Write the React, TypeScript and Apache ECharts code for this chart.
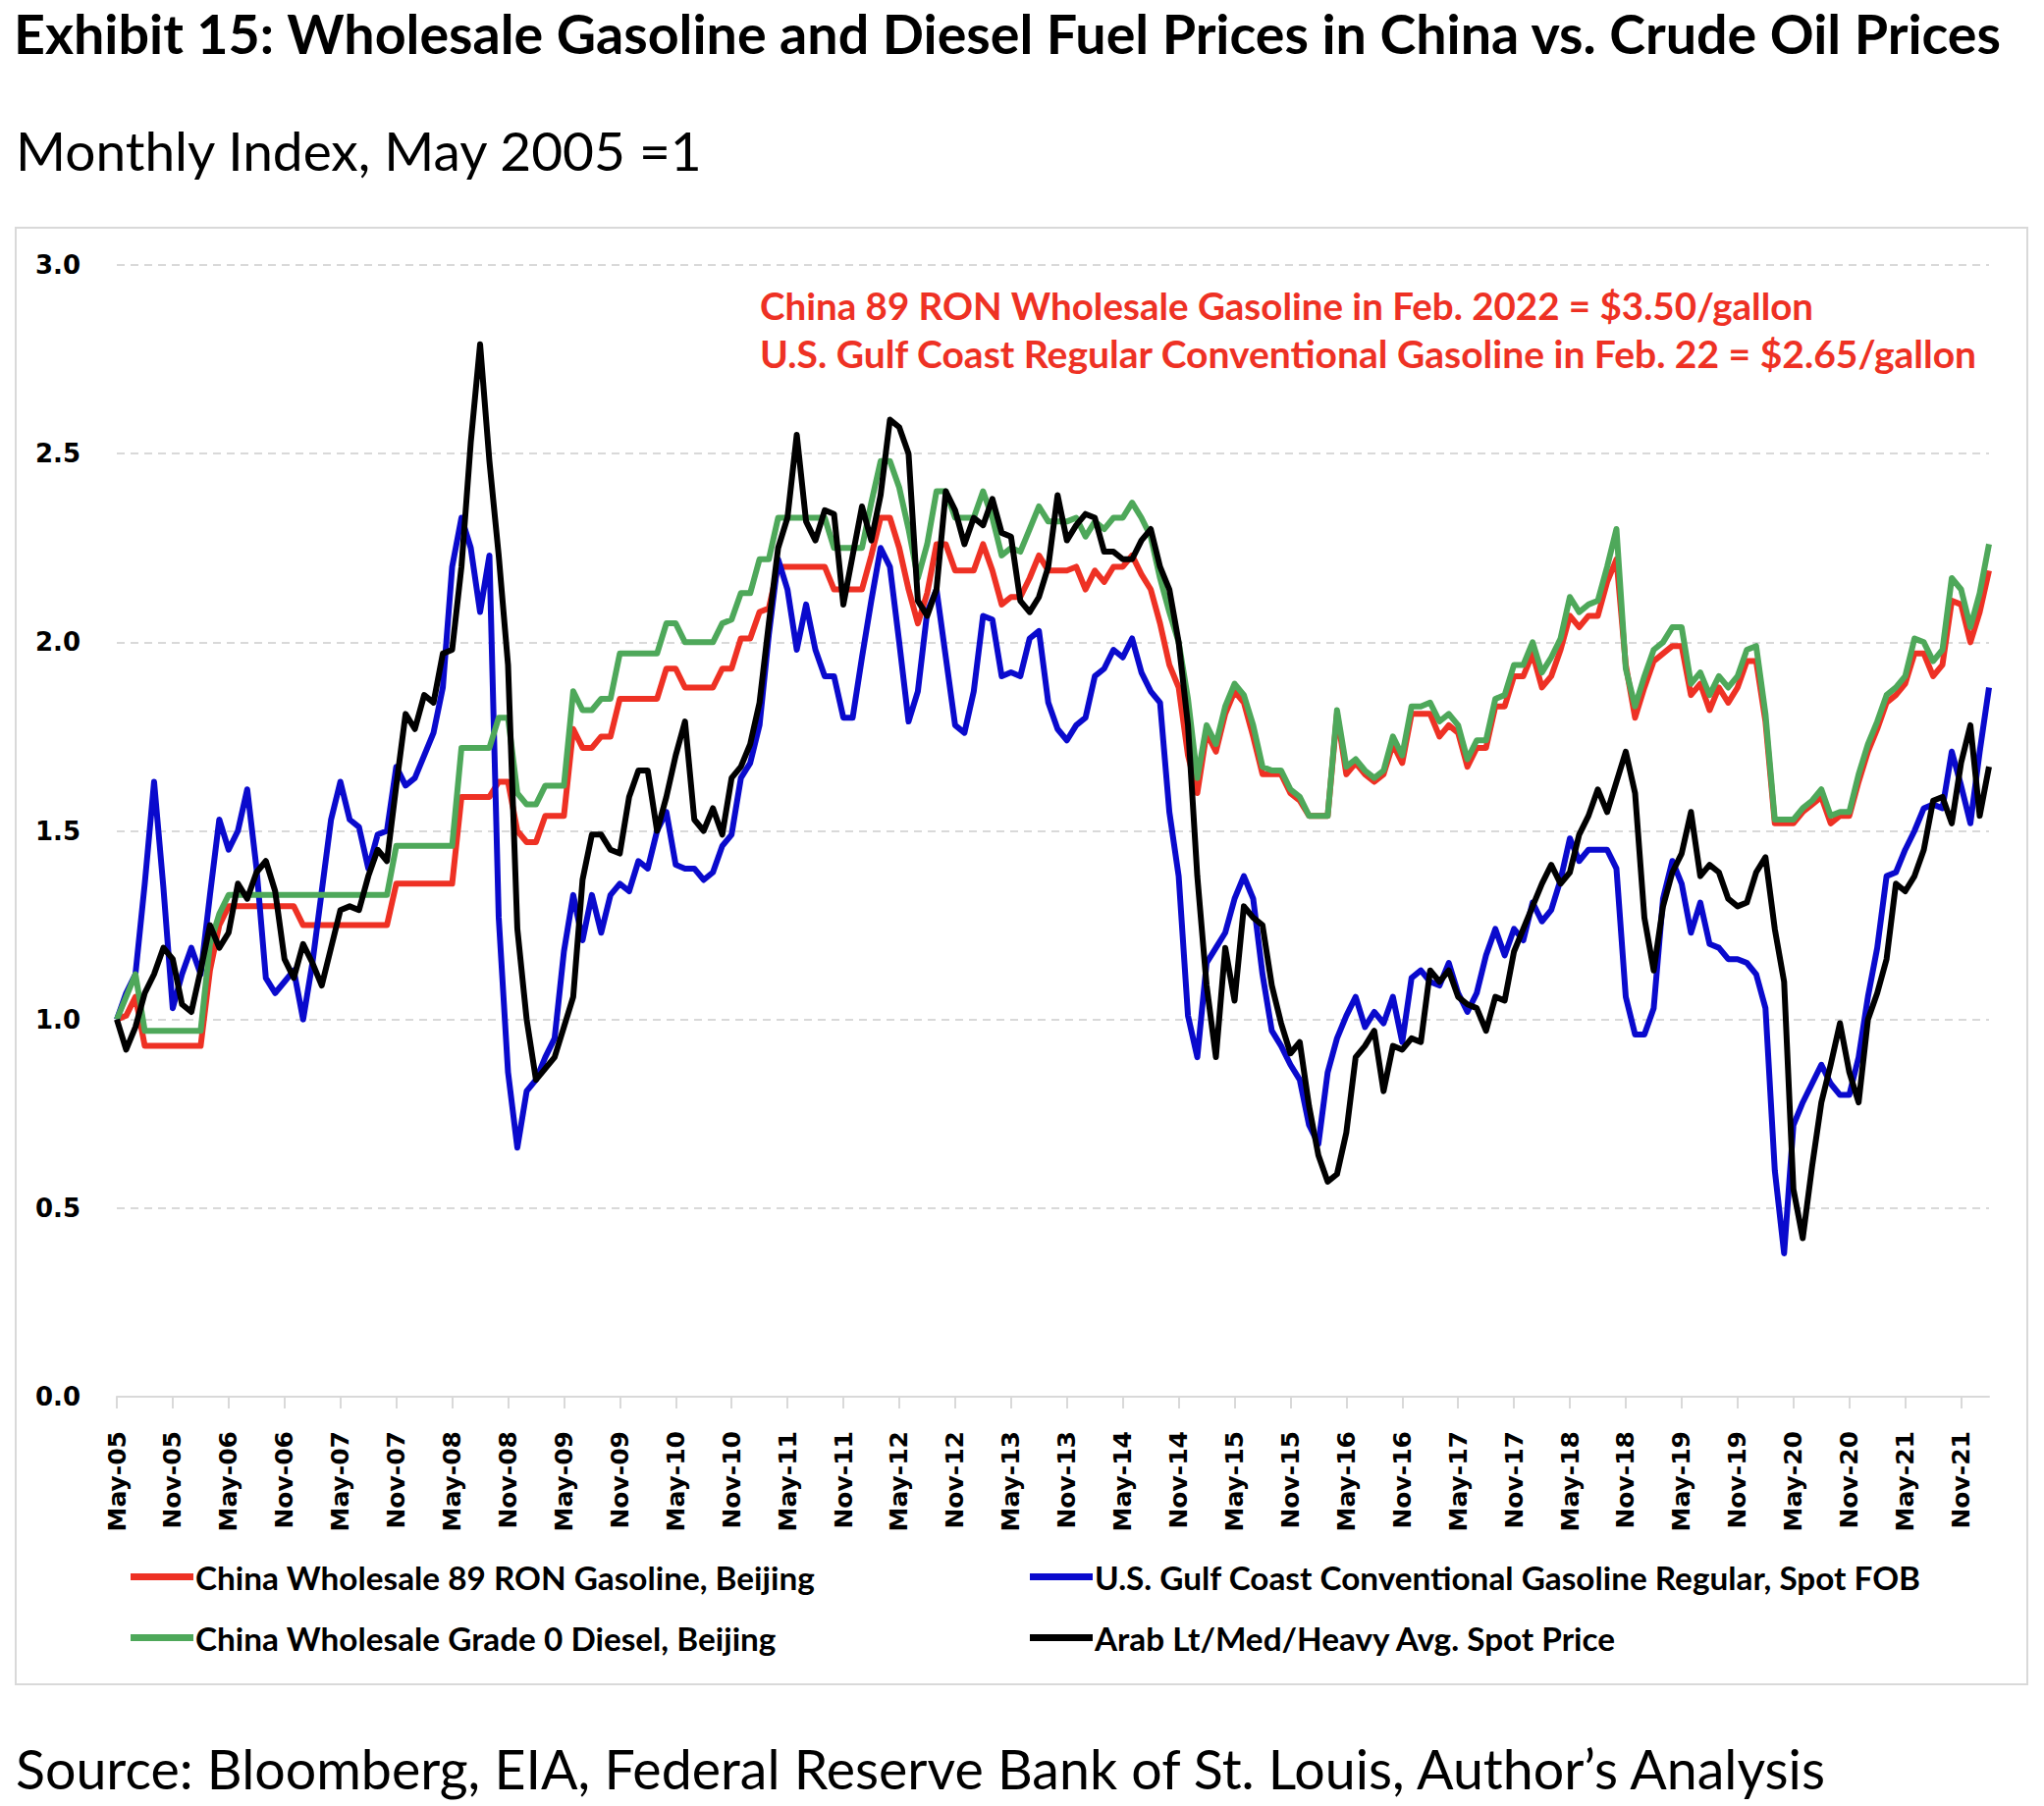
import React, { useEffect, useRef } from "react";
import * as echarts from "echarts";

// ---------- data (monthly index, May 2005 = 1) ----------
const START_YEAR = 2005;
const START_MONTH = 4; // May (0-based)
const MONTH_NAMES = ["Jan", "Feb", "Mar", "Apr", "May", "Jun", "Jul", "Aug", "Sep", "Oct", "Nov", "Dec"];

const chinaGasoline = [
  1.00, 1.01, 1.06, 0.93, 0.93, 0.93, 0.93, 0.93, 0.93, 0.93, 1.13, 1.25,
  1.30, 1.30, 1.30, 1.30, 1.30, 1.30, 1.30, 1.30, 1.25, 1.25, 1.25, 1.25,
  1.25, 1.25, 1.25, 1.25, 1.25, 1.25, 1.36, 1.36, 1.36, 1.36, 1.36, 1.36,
  1.36, 1.59, 1.59, 1.59, 1.59, 1.63, 1.63, 1.50, 1.47, 1.47, 1.54, 1.54,
  1.54, 1.77, 1.72, 1.72, 1.75, 1.75, 1.85, 1.85, 1.85, 1.85, 1.85, 1.93,
  1.93, 1.88, 1.88, 1.88, 1.88, 1.93, 1.93, 2.01, 2.01, 2.08, 2.09, 2.20,
  2.20, 2.20, 2.20, 2.20, 2.20, 2.14, 2.14, 2.14, 2.14, 2.23, 2.33, 2.33,
  2.25, 2.14, 2.05, 2.13, 2.26, 2.26, 2.19, 2.19, 2.19, 2.26, 2.19, 2.10,
  2.12, 2.12, 2.17, 2.23, 2.19, 2.19, 2.19, 2.20, 2.14, 2.19, 2.16, 2.20,
  2.20, 2.23, 2.18, 2.14, 2.05, 1.94, 1.88, 1.70, 1.60, 1.76, 1.71, 1.81,
  1.87, 1.84, 1.75, 1.65, 1.65, 1.65, 1.60, 1.58, 1.54, 1.54, 1.54, 1.81,
  1.65, 1.68, 1.65, 1.63, 1.65, 1.73, 1.68, 1.81, 1.81, 1.81, 1.75, 1.78,
  1.76, 1.67, 1.72, 1.72, 1.83, 1.83, 1.91, 1.91, 1.97, 1.88, 1.91, 1.98,
  2.07, 2.04, 2.07, 2.07, 2.16, 2.22, 1.94, 1.80, 1.88, 1.95, 1.97, 1.99,
  1.99, 1.86, 1.89, 1.82, 1.88, 1.84, 1.88, 1.95, 1.95, 1.79, 1.52, 1.52,
  1.52, 1.55, 1.57, 1.59, 1.52, 1.54, 1.54, 1.63, 1.71, 1.77, 1.84, 1.86,
  1.89, 1.97, 1.97, 1.91, 1.94, 2.11, 2.10, 2.00, 2.08, 2.19,
];

const usGulfGasoline = [
  1.00, 1.07, 1.12, 1.36, 1.63, 1.35, 1.03, 1.12, 1.19, 1.12, 1.33, 1.53,
  1.45, 1.50, 1.61, 1.40, 1.11, 1.07, 1.10, 1.13, 1.00, 1.15, 1.34, 1.53,
  1.63, 1.53, 1.51, 1.40, 1.49, 1.50, 1.67, 1.62, 1.64, 1.70, 1.76, 1.88,
  2.20, 2.33, 2.25, 2.08, 2.23, 1.27, 0.86, 0.66, 0.81, 0.84, 0.90, 0.95,
  1.18, 1.33, 1.21, 1.33, 1.23, 1.33, 1.36, 1.34, 1.42, 1.40, 1.50, 1.55,
  1.41, 1.40, 1.40, 1.37, 1.39, 1.46, 1.49, 1.64, 1.68, 1.78, 2.02, 2.22,
  2.14, 1.98, 2.10, 1.98, 1.91, 1.91, 1.80, 1.80, 1.96, 2.11, 2.25, 2.20,
  2.00, 1.79, 1.87, 2.08, 2.14, 1.96, 1.78, 1.76, 1.87, 2.07, 2.06, 1.91,
  1.92, 1.91, 2.01, 2.03, 1.84, 1.77, 1.74, 1.78, 1.80, 1.91, 1.93, 1.98,
  1.96, 2.01, 1.92, 1.87, 1.84, 1.55, 1.38, 1.01, 0.90, 1.15, 1.19, 1.23,
  1.32, 1.38, 1.32, 1.12, 0.97, 0.93, 0.88, 0.84, 0.72, 0.67, 0.86, 0.95,
  1.01, 1.06, 0.98, 1.02, 0.99, 1.06, 0.94, 1.11, 1.13, 1.10, 1.09, 1.15,
  1.07, 1.02, 1.07, 1.17, 1.24, 1.17, 1.24, 1.21, 1.31, 1.26, 1.29, 1.37,
  1.48, 1.42, 1.45, 1.45, 1.45, 1.40, 1.06, 0.96, 0.96, 1.03, 1.32, 1.42,
  1.36, 1.23, 1.31, 1.20, 1.19, 1.16, 1.16, 1.15, 1.12, 1.03, 0.60, 0.38,
  0.72, 0.78, 0.83, 0.88, 0.83, 0.80, 0.80, 0.90, 1.06, 1.19, 1.38, 1.39,
  1.45, 1.50, 1.56, 1.57, 1.56, 1.71, 1.62, 1.52, 1.71, 1.88,
];

const chinaDiesel = [
  1.00, 1.06, 1.12, 0.97, 0.97, 0.97, 0.97, 0.97, 0.97, 0.97, 1.20, 1.28,
  1.33, 1.33, 1.33, 1.33, 1.33, 1.33, 1.33, 1.33, 1.33, 1.33, 1.33, 1.33,
  1.33, 1.33, 1.33, 1.33, 1.33, 1.33, 1.46, 1.46, 1.46, 1.46, 1.46, 1.46,
  1.46, 1.72, 1.72, 1.72, 1.72, 1.80, 1.80, 1.60, 1.57, 1.57, 1.62, 1.62,
  1.62, 1.87, 1.82, 1.82, 1.85, 1.85, 1.97, 1.97, 1.97, 1.97, 1.97, 2.05,
  2.05, 2.00, 2.00, 2.00, 2.00, 2.05, 2.06, 2.13, 2.13, 2.22, 2.22, 2.33,
  2.33, 2.33, 2.33, 2.33, 2.33, 2.25, 2.25, 2.25, 2.25, 2.37, 2.48, 2.48,
  2.41, 2.30, 2.17, 2.26, 2.40, 2.40, 2.33, 2.33, 2.33, 2.40, 2.33, 2.23,
  2.25, 2.24, 2.30, 2.36, 2.32, 2.32, 2.32, 2.33, 2.28, 2.32, 2.30, 2.33,
  2.33, 2.37, 2.33, 2.28, 2.17, 2.08, 2.00, 1.85, 1.64, 1.78, 1.73, 1.83,
  1.89, 1.86, 1.78, 1.67, 1.66, 1.66, 1.61, 1.59, 1.54, 1.54, 1.54, 1.82,
  1.67, 1.69, 1.66, 1.64, 1.66, 1.75, 1.70, 1.83, 1.83, 1.84, 1.79, 1.81,
  1.78, 1.69, 1.74, 1.74, 1.85, 1.86, 1.94, 1.94, 2.00, 1.92, 1.96, 2.01,
  2.12, 2.08, 2.10, 2.11, 2.20, 2.30, 1.93, 1.83, 1.91, 1.98, 2.00, 2.04,
  2.04, 1.89, 1.92, 1.86, 1.91, 1.88, 1.91, 1.98, 1.99, 1.81, 1.53, 1.53,
  1.53, 1.56, 1.58, 1.61, 1.54, 1.55, 1.55, 1.65, 1.73, 1.79, 1.86, 1.88,
  1.91, 2.01, 2.00, 1.95, 1.98, 2.17, 2.14, 2.04, 2.13, 2.26,
];

const arabCrude = [
  1.00, 0.92, 0.98, 1.07, 1.12, 1.19, 1.16, 1.04, 1.02, 1.13, 1.25, 1.19,
  1.23, 1.36, 1.32, 1.39, 1.42, 1.34, 1.16, 1.11, 1.20, 1.15, 1.09, 1.19,
  1.29, 1.30, 1.29, 1.38, 1.45, 1.42, 1.62, 1.81, 1.77, 1.86, 1.84, 1.97,
  1.98, 2.20, 2.53, 2.79, 2.48, 2.23, 1.94, 1.24, 1.00, 0.84, 0.87, 0.90,
  0.98, 1.06, 1.37, 1.49, 1.49, 1.45, 1.44, 1.59, 1.66, 1.66, 1.50, 1.59,
  1.70, 1.79, 1.53, 1.50, 1.56, 1.49, 1.64, 1.67, 1.73, 1.84, 2.05, 2.25,
  2.33, 2.55, 2.32, 2.27, 2.35, 2.34, 2.10, 2.23, 2.36, 2.27, 2.39, 2.59,
  2.57, 2.50, 2.11, 2.07, 2.14, 2.40, 2.35, 2.26, 2.33, 2.31, 2.38, 2.29,
  2.28, 2.11, 2.08, 2.12, 2.20, 2.39, 2.27, 2.31, 2.34, 2.33, 2.24, 2.24,
  2.22, 2.22, 2.27, 2.30, 2.20, 2.14, 2.00, 1.78, 1.38, 1.09, 0.90, 1.19,
  1.05, 1.30, 1.27, 1.25, 1.09, 0.99, 0.91, 0.94, 0.77, 0.64, 0.57, 0.59,
  0.70, 0.90, 0.93, 0.97, 0.81, 0.93, 0.92, 0.95, 0.94, 1.13, 1.10, 1.13,
  1.06, 1.04, 1.03, 0.97, 1.06, 1.05, 1.18, 1.24, 1.30, 1.36, 1.41, 1.36,
  1.39, 1.49, 1.54, 1.61, 1.55, 1.63, 1.71, 1.60, 1.27, 1.13, 1.30, 1.39,
  1.44, 1.55, 1.38, 1.41, 1.39, 1.32, 1.30, 1.31, 1.39, 1.43, 1.24, 1.10,
  0.55, 0.42, 0.61, 0.78, 0.88, 0.99, 0.86, 0.78, 1.00, 1.07, 1.16, 1.36,
  1.34, 1.38, 1.45, 1.58, 1.59, 1.52, 1.68, 1.78, 1.54, 1.67,
];

const categories = chinaGasoline.map((_, i) => {
  const m = (START_MONTH + i) % 12;
  const y = START_YEAR + Math.floor((START_MONTH + i) / 12);
  return `${MONTH_NAMES[m]}-${String(y % 100).padStart(2, "0")}`;
});

const SERIES_NAMES = [
  "China Wholesale 89 RON Gasoline, Beijing",
  "U.S. Gulf Coast Conventional Gasoline Regular, Spot FOB",
  "China Wholesale Grade 0 Diesel, Beijing",
  "Arab Lt/Med/Heavy Avg. Spot Price",
];
const SERIES_COLORS = ["#EE3124", "#0A0ACD", "#4EA85A", "#000000"];
const SERIES_DATA = [chinaGasoline, usGulfGasoline, chinaDiesel, arabCrude];

const TITLE = "Exhibit 15: Wholesale Gasoline and Diesel Fuel Prices in China vs. Crude Oil Prices";
const SUBTITLE = "Monthly Index, May 2005 =1";
const NOTE_1 = "China 89 RON Wholesale Gasoline in Feb. 2022 = $3.50/gallon";
const NOTE_2 = "U.S. Gulf Coast Regular Conventional Gasoline in Feb. 22 = $2.65/gallon";
const SOURCE = "Source: Bloomberg, EIA, Federal Reserve Bank of St. Louis, Author\u2019s Analysis";

const Y_MIN = 0;
const Y_MAX = 3;
const Y_STEP = 0.5;

const W = 2082;
const H = 1840;
const CAL = "Lato, 'Noto Sans', sans-serif";
const AXF = "'DejaVu Sans', sans-serif";

export default function App() {
  const ref = useRef<HTMLDivElement>(null);

  useEffect(() => {
    if (!ref.current) return;
    const chart = echarts.init(ref.current, undefined, { renderer: "svg" });

    const legendPos = [
      { left: 133, top: 1590 },
      { left: 1049, top: 1590 },
      { left: 133, top: 1652 },
      { left: 1049, top: 1652 },
    ];

    chart.setOption({
      animation: false,
      backgroundColor: "#ffffff",
      grid: { left: 119, right: 56, top: 270, bottom: 417, containLabel: false },
      legend: SERIES_NAMES.map((name, i) => ({
        data: [name],
        left: legendPos[i].left,
        top: legendPos[i].top,
        padding: 0,
        icon: "rect",
        itemWidth: 64,
        itemHeight: 7,
        itemGap: 0,
        selectedMode: false,
        textStyle: { fontFamily: CAL, fontWeight: "bold", fontSize: 33.3, color: "#000", padding: [0, 0, 0, -3] },
      })),
      xAxis: {
        type: "category",
        data: categories,
        boundaryGap: false,
        axisLine: { lineStyle: { color: "#d9d9d9", width: 2 } },
        axisTick: { show: true, interval: 5, length: 12, lineStyle: { color: "#d9d9d9", width: 2 } },
        axisLabel: {
          interval: 5,
          rotate: 90,
          margin: 35,
          fontFamily: AXF,
          fontWeight: "bold",
          fontSize: 25,
          color: "#000",
        },
        splitLine: { show: false },
      },
      yAxis: {
        type: "value",
        min: Y_MIN,
        max: Y_MAX,
        interval: Y_STEP,
        axisLine: { show: false },
        axisTick: { show: false },
        axisLabel: {
          margin: 37,
          fontFamily: AXF,
          fontWeight: "bold",
          fontSize: 26,
          color: "#000",
          formatter: (v: number) => v.toFixed(1),
        },
        splitLine: { show: true, lineStyle: { color: "#d9d9d9", width: 2, type: [8, 6] } },
      },
      series: SERIES_NAMES.map((name, i) => ({
        name,
        type: "line",
        data: SERIES_DATA[i],
        symbol: "none",
        smooth: false,
        lineStyle: { color: SERIES_COLORS[i], width: 6, join: "round" },
        itemStyle: { color: SERIES_COLORS[i] },
        z: 2 + i,
      })),
      graphic: [
        {
          type: "rect",
          shape: { x: 16, y: 232, width: 2049, height: 1484 },
          style: { fill: "none", stroke: "#d9d9d9", lineWidth: 2 },
          z: 0,
          silent: true,
        },
        {
          type: "text",
          left: 14,
          top: 5,
          style: { text: TITLE, font: `bold 55.6px ${CAL}`, fill: "#000" },
        },
        {
          type: "text",
          left: 16,
          top: 125,
          style: { text: SUBTITLE, font: `55px ${CAL}`, fill: "#000" },
        },
        {
          type: "text",
          left: 774,
          top: 291,
          style: { text: NOTE_1, font: `bold 38.5px ${CAL}`, fill: "#EE3124" },
        },
        {
          type: "text",
          left: 774,
          top: 340,
          style: { text: NOTE_2, font: `bold 39px ${CAL}`, fill: "#EE3124" },
        },
        {
          type: "text",
          left: 16,
          top: 1773,
          style: { text: SOURCE, font: `55.5px ${CAL}`, fill: "#000" },
        },
      ],
    });

    return () => chart.dispose();
  }, []);

  return (
    <div style={{ position: "fixed", left: 0, top: 0, width: W, height: H, background: "#fff" }}>
      <div ref={ref} style={{ width: W, height: H }} />
    </div>
  );
}
